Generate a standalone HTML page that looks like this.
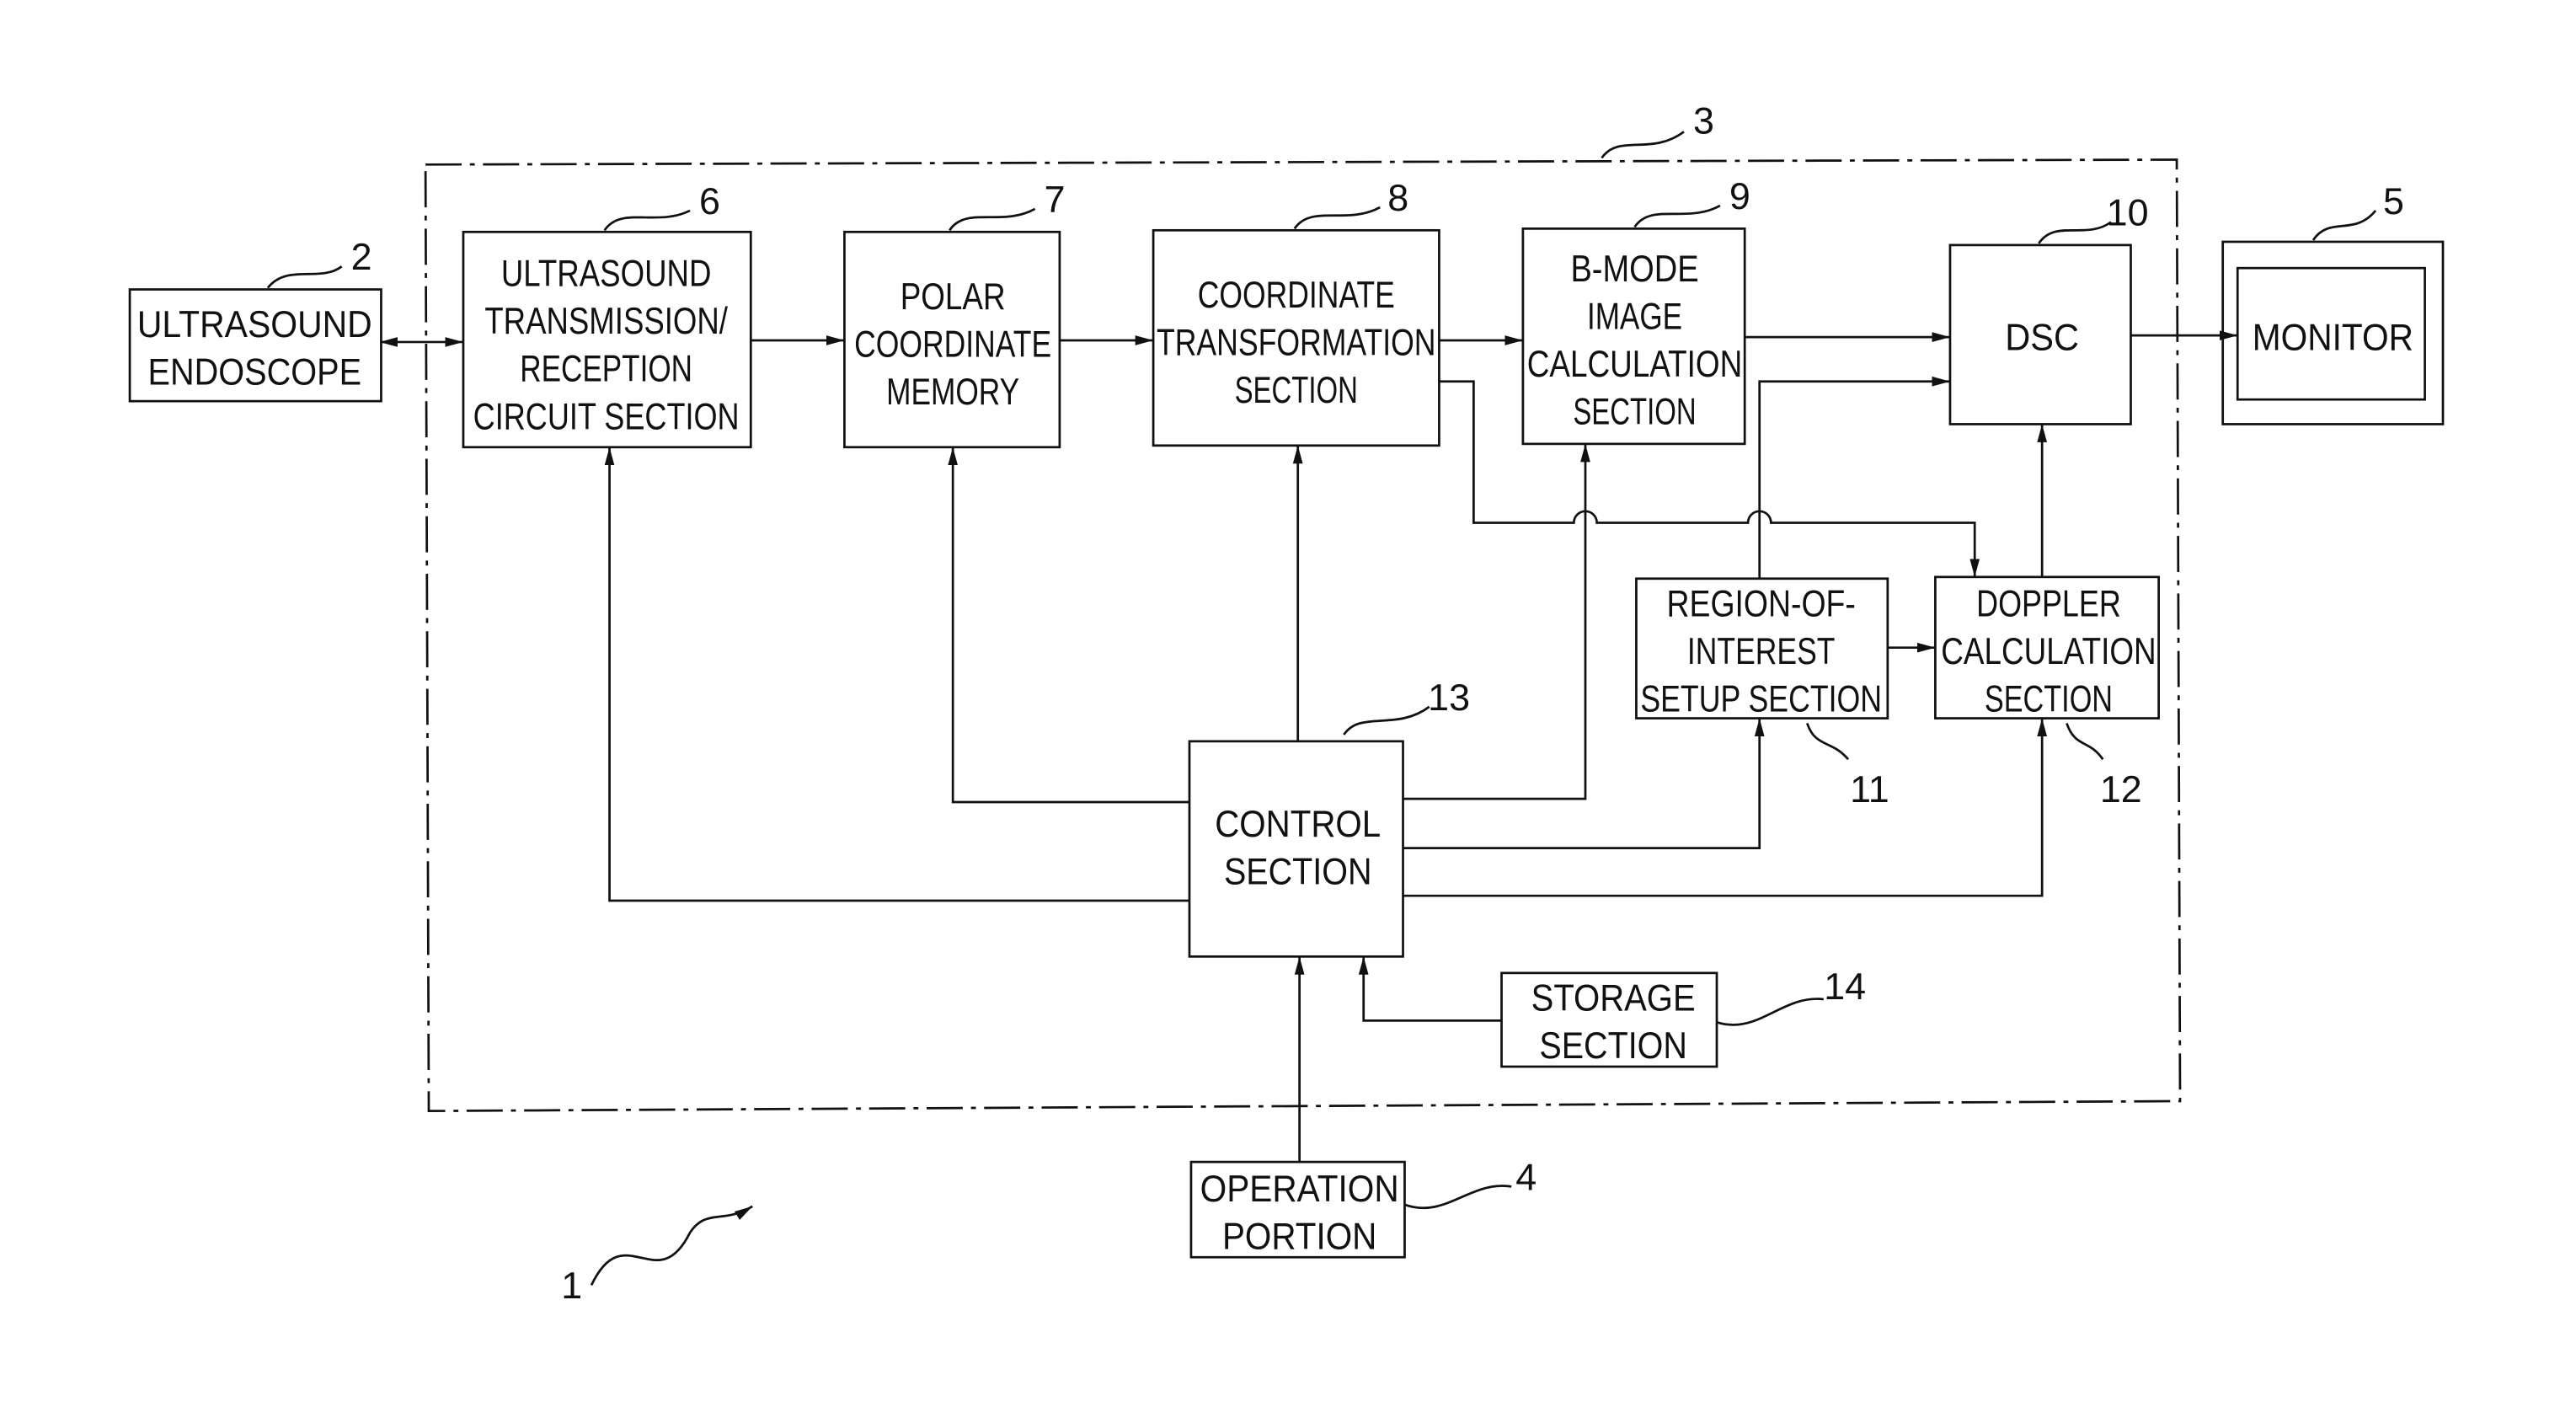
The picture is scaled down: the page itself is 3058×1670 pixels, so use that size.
<!DOCTYPE html>
<html><head><meta charset="utf-8"><style>
html,body{margin:0;padding:0;background:#fff;}
svg{display:block;}
text{font-family:"Liberation Sans",sans-serif;font-size:23px;fill:#111;text-anchor:middle;}
</style></head><body>
<svg width="3058" height="1670" viewBox="0 0 1568 856" xmlns="http://www.w3.org/2000/svg">
<defs><marker id="a" markerWidth="12" markerHeight="8" refX="11" refY="4" orient="auto" markerUnits="userSpaceOnUse"><path d="M0,1 L11,4 L0,7 Z" fill="#111"/></marker>
<marker id="s" markerWidth="12" markerHeight="8" refX="1" refY="4" orient="auto" markerUnits="userSpaceOnUse"><path d="M11,1 L0,4 L11,7 Z" fill="#111"/></marker></defs>
<g fill="none" stroke="#111" stroke-width="1.4">
<path d="M259,100 L1325,97 L1327,670 L261,676 Z" stroke-dasharray="22,5,3,5"/>
<rect x="79" y="176" width="153" height="68"/>
<rect x="282" y="141" width="175" height="131"/>
<rect x="514" y="141" width="131" height="131"/>
<rect x="702" y="140" width="174" height="131"/>
<rect x="927" y="139" width="135" height="131"/>
<rect x="1187" y="149" width="110" height="109"/>
<rect x="1353" y="147" width="134" height="111"/>
<rect x="1362" y="163" width="114" height="80"/>
<rect x="996" y="352" width="153" height="85"/>
<rect x="1178" y="351" width="136" height="86"/>
<rect x="724" y="451" width="130" height="131"/>
<rect x="914" y="592" width="131" height="57"/>
<rect x="725" y="707" width="130" height="58"/>
<g marker-end="url(#a)">
<path d="M232,208 L282,208" marker-start="url(#s)"/>
<path d="M457,207 L514,207"/><path d="M645,207 L702,207"/><path d="M876,207 L927,207"/>
<path d="M1062,205 L1187,205"/>
<path d="M1071,352 L1071,232 L1187,232"/>
<path d="M1297,204 L1362,204"/>
<path d="M876,232 L897,232 L897,318 L958,318 A7,7 0 0 1 972,318 L1064,318 A7,7 0 0 1 1078,318 L1202,318 L1202,351"/>
<path d="M1243,351 L1243,258"/>
<path d="M1149,394 L1178,394"/>
<path d="M790,451 L790,271"/>
<path d="M724,488 L580,488 L580,272"/>
<path d="M724,548 L371,548 L371,272"/>
<path d="M854,486 L965,486 L965,270"/>
<path d="M854,516 L1071,516 L1071,437"/>
<path d="M854,545 L1243,545 L1243,437"/>
<path d="M914,621 L830,621 L830,582"/>
<path d="M791,707 L791,582"/>
<path d="M360,782 C380,740 400,790 420,750 C430,735 440,745 458,734"/>
</g>
<path d="M163,175 C175,160 195,172 208,162"/>
<path d="M368,140 C378,125 400,138 420,128"/>
<path d="M578,140 C588,125 610,138 630,127"/>
<path d="M788,139 C798,124 820,137 840,126"/>
<path d="M995,138 C1005,123 1027,136 1047,125"/>
<path d="M1241,148 C1251,133 1270,146 1285,135"/>
<path d="M1408,146 C1418,131 1433,144 1446,128"/>
<path d="M975,96 C985,81 1005,95 1025,80"/>
<path d="M818,447 C828,432 850,445 870,430"/>
<path d="M1100,440 C1105,455 1115,450 1125,462"/>
<path d="M1258,440 C1263,455 1272,450 1280,462"/>
<path d="M1045,622 C1070,630 1085,605 1110,608"/>
<path d="M855,733 C880,742 895,718 920,722"/>
</g>
<g lengthAdjust="spacingAndGlyphs">
<text x="155" y="205" textLength="143" lengthAdjust="spacingAndGlyphs">ULTRASOUND</text><text x="155" y="234" textLength="130" lengthAdjust="spacingAndGlyphs">ENDOSCOPE</text>
<text x="369" y="174" textLength="128" lengthAdjust="spacingAndGlyphs">ULTRASOUND</text><text x="369" y="203" textLength="148" lengthAdjust="spacingAndGlyphs">TRANSMISSION/</text><text x="369" y="232" textLength="105" lengthAdjust="spacingAndGlyphs">RECEPTION</text><text x="369" y="261" textLength="162" lengthAdjust="spacingAndGlyphs">CIRCUIT SECTION</text>
<text x="580" y="188" textLength="64" lengthAdjust="spacingAndGlyphs">POLAR</text><text x="580" y="217" textLength="120" lengthAdjust="spacingAndGlyphs">COORDINATE</text><text x="580" y="246" textLength="81" lengthAdjust="spacingAndGlyphs">MEMORY</text>
<text x="789" y="187" textLength="120" lengthAdjust="spacingAndGlyphs">COORDINATE</text><text x="789" y="216" textLength="170" lengthAdjust="spacingAndGlyphs">TRANSFORMATION</text><text x="789" y="245" textLength="75" lengthAdjust="spacingAndGlyphs">SECTION</text>
<text x="995" y="171" textLength="78" lengthAdjust="spacingAndGlyphs">B-MODE</text><text x="995" y="200" textLength="58" lengthAdjust="spacingAndGlyphs">IMAGE</text><text x="995" y="229" textLength="131" lengthAdjust="spacingAndGlyphs">CALCULATION</text><text x="995" y="258" textLength="75" lengthAdjust="spacingAndGlyphs">SECTION</text>
<text x="1243" y="213" textLength="45" lengthAdjust="spacingAndGlyphs">DSC</text>
<text x="1420" y="213" textLength="98" lengthAdjust="spacingAndGlyphs">MONITOR</text>
<text x="1072" y="375" textLength="115" lengthAdjust="spacingAndGlyphs">REGION-OF-</text><text x="1072" y="404" textLength="90" lengthAdjust="spacingAndGlyphs">INTEREST</text><text x="1072" y="433" textLength="147" lengthAdjust="spacingAndGlyphs">SETUP SECTION</text>
<text x="1247" y="375" textLength="88" lengthAdjust="spacingAndGlyphs">DOPPLER</text><text x="1247" y="404" textLength="131" lengthAdjust="spacingAndGlyphs">CALCULATION</text><text x="1247" y="433" textLength="78" lengthAdjust="spacingAndGlyphs">SECTION</text>
<text x="790" y="509" textLength="101" lengthAdjust="spacingAndGlyphs">CONTROL</text><text x="790" y="538" textLength="90" lengthAdjust="spacingAndGlyphs">SECTION</text>
<text x="982" y="615" textLength="100" lengthAdjust="spacingAndGlyphs">STORAGE</text><text x="982" y="644" textLength="90" lengthAdjust="spacingAndGlyphs">SECTION</text>
<text x="791" y="731" textLength="121" lengthAdjust="spacingAndGlyphs">OPERATION</text><text x="791" y="760" textLength="94" lengthAdjust="spacingAndGlyphs">PORTION</text>
</g>
<text x="220" y="164">2</text><text x="432" y="130">6</text><text x="642" y="129">7</text>
<text x="851" y="128">8</text><text x="1059" y="127">9</text><text x="1295" y="137">10</text>
<text x="1457" y="130">5</text><text x="1037" y="81">3</text><text x="882" y="432">13</text>
<text x="1138" y="488">11</text><text x="1291" y="488">12</text><text x="1123" y="608">14</text>
<text x="929" y="724">4</text><text x="348" y="790">1</text>
</svg>
</body></html>
